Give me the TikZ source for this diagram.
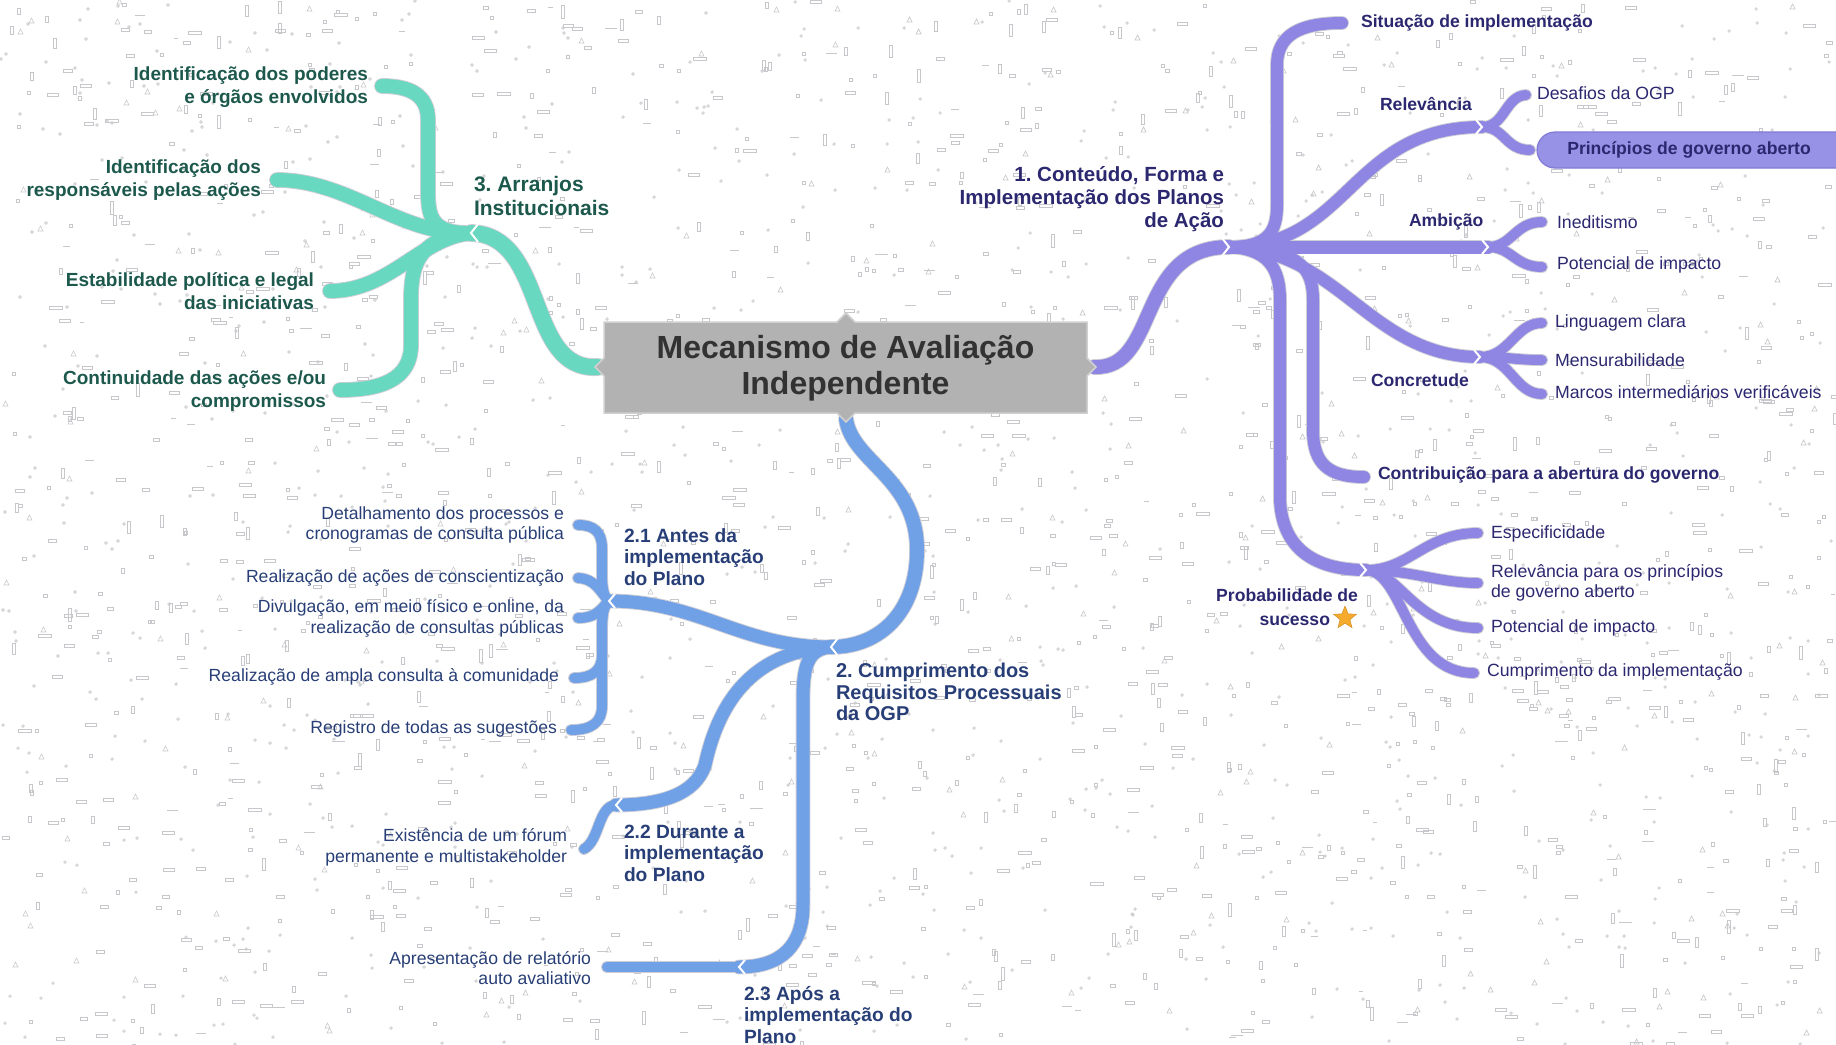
\documentclass[tikz,border=0pt]{standalone}
\usepackage{fontspec}
\setmainfont{Liberation Sans}
\usetikzlibrary{shapes.geometric}
\frenchspacing

\definecolor{tealR}{RGB}{104,216,192}
\definecolor{tealT}{RGB}{28,88,76}
\definecolor{purR}{RGB}{142,134,226}
\definecolor{purT}{RGB}{44,40,112}
\definecolor{bluR}{RGB}{112,160,230}
\definecolor{bluT}{RGB}{40,62,118}
\definecolor{edgeC}{RGB}{206,206,214}
\definecolor{boxF}{RGB}{178,178,178}
\definecolor{boxE}{RGB}{208,208,208}
\definecolor{boxT}{RGB}{50,50,50}
\definecolor{pillF}{RGB}{152,146,230}
\definecolor{pillE}{RGB}{128,122,212}
\definecolor{starC}{RGB}{246,170,46}
\definecolor{speck}{RGB}{200,200,204}

\pgfdeclarelayer{texture}
\pgfdeclarelayer{ribbons}
\pgfdeclarelayer{plate}
\pgfsetlayers{texture,ribbons,plate,main}

% ribbon sets: #1 = colour, #2 = extra width (for the pale outline pass)
\newcommand\tealribbons[2]{%
  \draw[draw=#1,line width=16pt+#2,line cap=round] (tRoot) .. controls (525,372) and (548,235) .. (tHub);
  \draw[draw=#1,line width=14pt+#2,line cap=round] (tHub) .. controls (430,234) and (428,215) .. (428,190) -- (428,120) .. controls (428,95) and (410,86) .. (tL1);
  \draw[draw=#1,line width=14pt+#2,line cap=round] (tHub) .. controls (400,236) and (350,180) .. (tL2);
  \draw[draw=#1,line width=14pt+#2,line cap=round] (tHub) .. controls (420,238) and (390,291) .. (tL3);
  \draw[draw=#1,line width=14pt+#2,line cap=round] (tHub) .. controls (420,238) and (411,262) .. (411,300) -- (411,345) .. controls (411,380) and (380,390) .. (tL4);
}
\newcommand\purribbons[2]{%
  \draw[draw=#1,line width=14pt+#2,line cap=round] (pRoot) .. controls (1160,370) and (1135,247) .. (pHub);
  \draw[draw=#1,line width=12pt+#2,line cap=round] (pHub) .. controls (1268,247) and (1277,232) .. (1277,205) -- (1277,65) .. controls (1277,35) and (1300,23) .. (pSit);
  \draw[draw=#1,line width=12pt+#2,line cap=round] (pHub) .. controls (1350,247) and (1350,127) .. (pRel);
  \draw[draw=#1,line width=10pt+#2,line cap=round] (pRel) .. controls (1505,127) and (1505,96) .. (pDes);
  \draw[draw=#1,line width=10pt+#2,line cap=round] (pRel) .. controls (1505,127) and (1505,150) .. (pPri);
  \draw[draw=#1,line width=13pt+#2,line cap=round] (pHub) -- (pAmb);
  \draw[draw=#1,line width=10pt+#2,line cap=round] (pAmb) .. controls (1512,247) and (1515,222) .. (pIne);
  \draw[draw=#1,line width=10pt+#2,line cap=round] (pAmb) .. controls (1512,247) and (1515,267) .. (pPot);
  \draw[draw=#1,line width=12pt+#2,line cap=round] (pHub) .. controls (1340,250) and (1370,357) .. (pCon);
  \draw[draw=#1,line width=10pt+#2,line cap=round] (pCon) .. controls (1510,357) and (1515,323) .. (pLin);
  \draw[draw=#1,line width=10pt+#2,line cap=round] (pCon) .. controls (1510,357) and (1515,360) .. (pMen);
  \draw[draw=#1,line width=10pt+#2,line cap=round] (pCon) .. controls (1510,357) and (1515,394) .. (pMar);
  \draw[draw=#1,line width=12pt+#2,line cap=round] (pHub) .. controls (1300,249) and (1313,268) .. (1313,300) -- (1313,430) .. controls (1313,465) and (1330,477) .. (pCtb);
  \draw[draw=#1,line width=12pt+#2,line cap=round] (pHub) .. controls (1268,249) and (1280,268) .. (1280,300) -- (1280,500) .. controls (1282,545) and (1310,570) .. (pPro);
  \draw[draw=#1,line width=10pt+#2,line cap=round] (pPro) .. controls (1410,570) and (1425,533) .. (pEsp);
  \draw[draw=#1,line width=10pt+#2,line cap=round] (pPro) .. controls (1410,570) and (1440,583) .. (pRpg);
  \draw[draw=#1,line width=10pt+#2,line cap=round] (pPro) .. controls (1400,572) and (1415,628) .. (pPim);
  \draw[draw=#1,line width=10pt+#2,line cap=round] (pPro) .. controls (1405,572) and (1405,673) .. (pCum);
}
\newcommand\bluribbons[2]{%
  \draw[draw=#1,line width=14pt+#2,line cap=round] (bRoot) .. controls (852,462) and (917,478) .. (917,550) .. controls (917,612) and (880,647) .. (bHub);
  \draw[draw=#1,line width=13pt+#2,line cap=round] (bHub) .. controls (740,647) and (700,601) .. (bA);
  \draw[draw=#1,line width=10pt+#2,line cap=round] (bA) .. controls (603,596) and (602,588) .. (602,570) -- (602,548) .. controls (602,532) and (594,525) .. (bA1);
  \draw[draw=#1,line width=10pt+#2,line cap=round] (bA) .. controls (600,592) and (596,579) .. (bA2);
  \draw[draw=#1,line width=10pt+#2,line cap=round] (bA) .. controls (600,610) and (596,618) .. (bA3);
  \draw[draw=#1,line width=10pt+#2,line cap=round] (bA) .. controls (603,606) and (602,615) .. (602,632) -- (602,655) .. controls (602,671) and (592,678) .. (bA4);
  \draw[draw=#1,line width=10pt+#2,line cap=round] (bA) .. controls (603,606) and (602,615) .. (602,632) -- (602,706) .. controls (602,722) and (592,730) .. (bA5);
  \draw[draw=#1,line width=13pt+#2,line cap=round] (bHub) .. controls (740,652) and (715,720) .. (705,765) .. controls (695,795) and (660,805) .. (bB);
  \draw[draw=#1,line width=10pt+#2,line cap=round] (bB) .. controls (598,806) and (600,840) .. (bB1);
  \draw[draw=#1,line width=13pt+#2,line cap=round] (bHub) .. controls (808,649) and (803,665) .. (803,700) -- (803,905) .. controls (803,945) and (782,967) .. (bC);
  \draw[draw=#1,line width=10pt+#2,line cap=round] (bC) -- (bC1);
}

\begin{document}
\begin{tikzpicture}[x=1pt,y=-1pt,
  every node/.style={inner sep=0pt,outer sep=0pt},
  tealhead/.style={font=\bfseries\fontsize{21}{24}\selectfont,text=tealT,align=left},
  tealleaf/.style={font=\bfseries\fontsize{19}{22.5}\selectfont,text=tealT,align=right},
  purhead/.style={font=\bfseries\fontsize{20.5}{23}\selectfont,text=purT,align=right},
  purbold/.style={font=\bfseries\fontsize{17.6}{24}\selectfont,text=purT,align=right},
  purleaf/.style={font=\fontsize{17.7}{20.5}\selectfont,text=purT,align=left},
  bluhead/.style={font=\bfseries\fontsize{20}{21.5}\selectfont,text=bluT,align=left},
  blusub/.style={font=\bfseries\fontsize{19.2}{21.5}\selectfont,text=bluT,align=left},
  bluleaf/.style={font=\fontsize{17.6}{20.8}\selectfont,text=bluT,align=right},
  centretext/.style={font=\bfseries\fontsize{32}{36.5}\selectfont,text=boxT,align=center},
  notch/.style={draw=white,line width=2pt},
  speckle/.style={draw=speck,line width=0.65pt},
]
\useasboundingbox (0,0) rectangle (1836,1044);
\clip (0,0) rectangle (1836,1044);

% ---------- named points of the ribbons ----------
\coordinate (tRoot) at (598,367);  \coordinate (tHub) at (471,233);
\coordinate (tL1) at (382,86);     \coordinate (tL2) at (277,180);
\coordinate (tL3) at (330,291);    \coordinate (tL4) at (340,390);

\coordinate (pRoot) at (1094,367); \coordinate (pHub) at (1229,247);
\coordinate (pSit) at (1342,23);
\coordinate (pRel) at (1482,127);  \coordinate (pDes) at (1526,95);  \coordinate (pPri) at (1530,150);
\coordinate (pAmb) at (1488,247);  \coordinate (pIne) at (1542,222); \coordinate (pPot) at (1542,267);
\coordinate (pCon) at (1480,357);  \coordinate (pLin) at (1542,323); \coordinate (pMen) at (1542,360);
\coordinate (pMar) at (1542,394);
\coordinate (pCtb) at (1364,477);
\coordinate (pPro) at (1366,570);  \coordinate (pEsp) at (1478,533); \coordinate (pRpg) at (1478,583);
\coordinate (pPim) at (1478,628);  \coordinate (pCum) at (1474,673);

\coordinate (bRoot) at (846,419);  \coordinate (bHub) at (831,647);
\coordinate (bA) at (609,601);
\coordinate (bA1) at (578,525); \coordinate (bA2) at (578,578); \coordinate (bA3) at (578,618);
\coordinate (bA4) at (574,678); \coordinate (bA5) at (571,730);
\coordinate (bB) at (616,805);  \coordinate (bB1) at (584,849);
\coordinate (bC) at (739,967);  \coordinate (bC1) at (607,967);

% ---------- paper texture ----------
\begin{pgfonlayer}{texture}
\pgfmathsetseed{2024}
\foreach \i in {1,...,2600}{
  \pgfmathtruncatemacro\px{random(0,1836)}
  \pgfmathtruncatemacro\py{random(0,1044)}
  \pgfmathtruncatemacro\kind{random(1,20)}
  \pgfmathtruncatemacro\len{random(4,13)}
  \ifnum\kind<8
    \draw[speckle] (\px,\py) circle[radius=1.3];
  \else\ifnum\kind<13
    \draw[speckle] (\px,\py) rectangle ++(\len,3);
  \else\ifnum\kind<16
    \draw[speckle] (\px,\py) rectangle ++(3,\len);
  \else\ifnum\kind<18
    \draw[speckle] (\px,\py) rectangle ++(3.5,3.5);
  \else\ifnum\kind<20
    \draw[speckle] (\px,\py) -- ++(5,0) -- ++(-2.5,-5) -- cycle;
  \else
    \draw[speckle] (\px,\py) -- ++(\len,0);
  \fi\fi\fi\fi\fi
}
\end{pgfonlayer}

% ---------- ribbons ----------
\begin{pgfonlayer}{ribbons}
  \tealribbons{edgeC}{1.8pt}
  \purribbons{edgeC}{1.8pt}
  \bluribbons{edgeC}{1.8pt}
  \tealribbons{tealR}{0pt}
  \purribbons{purR}{0pt}
  \bluribbons{bluR}{0pt}
  % joints
  \draw[notch] (tHub) ++(7,-9) -- (tHub) -- ++(7,9);
  \draw[notch] (pHub) ++(-7,-9) -- (pHub) -- ++(-7,9);
  \draw[notch] (pRel) ++(-6,-7) -- (pRel) -- ++(-6,7);
  \draw[notch] (pAmb) ++(-6,-7) -- (pAmb) -- ++(-6,7);
  \draw[notch] (pCon) ++(-6,-7) -- (pCon) -- ++(-6,7);
  \draw[notch] (pPro) ++(-6,-7) -- (pPro) -- ++(-6,7);
  \draw[notch] (bHub) ++(7,-9) -- (bHub) -- ++(7,9);
  \draw[notch] (bA) ++(6,-7) -- (bA) -- ++(6,7);
  \draw[notch] (bB) ++(6,-7) -- (bB) -- ++(6,7);
  \draw[notch] (bC) ++(6,-7) -- (bC) -- ++(6,7);
\end{pgfonlayer}

% ---------- central topic ----------
\node[centretext] (mav) at (845.5,368) {Mecanismo de Avaliação\\Independente};
\begin{pgfonlayer}{plate}
  \draw[fill=boxF,draw=boxE,line width=1.5pt]
    (604,322) -- (837,322) -- (846,313) -- (855,322) -- (1087,322) -- (1087,358) -- (1096,367)
    -- (1087,376) -- (1087,413) -- (855,413) -- (846,422) -- (837,413) -- (604,413) -- (604,376)
    -- (595,367) -- (604,358) -- cycle;
  \draw[fill=pillF,draw=pillE,line width=1.2pt,rounded corners=18pt] (1537,132) rectangle (1880,168);
\end{pgfonlayer}

% ---------- 3. Arranjos Institucionais ----------
\node[tealhead,anchor=west] (arr) at (474,196) {3. Arranjos\\Institucionais};
\node[tealleaf,anchor=east] (t1) at (368,87) {Identificação dos poderes\\e órgãos envolvidos};
\node[tealleaf,anchor=east] (t2) at (261,180) {Identificação dos\\responsáveis pelas ações};
\node[tealleaf,anchor=east] (t3) at (314,291) {Estabilidade política e legal\\das iniciativas};
\node[tealleaf,anchor=east] (t4) at (326,391) {Continuidade das ações e/ou\\compromissos};

% ---------- 1. Conteúdo, Forma e Implementação ----------
\node[purhead,anchor=east] (cfi) at (1224,199) {1. Conteúdo, Forma e\\Implementação dos Planos\\de Ação};
\node[purbold,anchor=west] (sit) at (1361,23) {Situação de implementação};
\node[purbold,anchor=west] (rel) at (1380,104) {Relevância};
\node[purleaf,anchor=west] (des) at (1537,93) {Desafios da OGP};
\node[purbold] (pri) at (1689,150) {Princípios de governo aberto};
\node[purbold,anchor=west] (amb) at (1409,222) {Ambição};
\node[purleaf,anchor=west] (ine) at (1557,222) {Ineditismo};
\node[purleaf,anchor=west] (pot) at (1557,265) {Potencial de impacto};
\node[purbold,anchor=west] (con) at (1371,380) {Concretude};
\node[purleaf,anchor=west] (lin) at (1555,323) {Linguagem clara};
\node[purleaf,anchor=west] (men) at (1555,360) {Mensurabilidade};
\node[purleaf,anchor=west] (mar) at (1555,392) {Marcos intermediários verificáveis};
\node[purbold,anchor=west] (ctb) at (1378,475) {Contribuição para a abertura do governo};
\node[purbold,anchor=east] (pro) at (1358,607) {Probabilidade de\\sucesso\hspace*{28pt}};
\node[star,star points=5,star point ratio=2.3,minimum size=24pt,fill=starC,draw=starC!85!black,line width=0.5pt] (str) at (1345,618) {};
\node[purleaf,anchor=west] (esp) at (1491,534) {Especificidade};
\node[purleaf,anchor=west] (rpg) at (1491,583) {Relevância para os princípios\\de governo aberto};
\node[purleaf,anchor=west] (pim) at (1491,628) {Potencial de impacto};
\node[purleaf,anchor=west] (cum) at (1487,672) {Cumprimento da implementação};

% ---------- 2. Cumprimento dos Requisitos Processuais ----------
\node[bluhead,anchor=west] (crp) at (836,692) {2. Cumprimento dos\\Requisitos Processuais\\da OGP};
\node[blusub,anchor=west] (antes) at (624,557) {2.1 Antes da\\implementação\\do Plano};
\node[blusub,anchor=west] (durante) at (624,853) {2.2 Durante a\\implementação\\do Plano};
\node[blusub,anchor=west] (apos) at (744,1015) {2.3 Após a\\implementação do\\Plano};
\node[bluleaf,anchor=east] (b1) at (564,525) {Detalhamento dos processos e\\cronogramas de consulta pública};
\node[bluleaf,anchor=east] (b2) at (564,578) {Realização de ações de conscientização};
\node[bluleaf,anchor=east] (b3) at (564,618) {Divulgação, em meio físico e online, da\\realização de consultas públicas};
\node[bluleaf,anchor=east] (b4) at (559,677) {Realização de ampla consulta à comunidade};
\node[bluleaf,anchor=east] (b5) at (557,729) {Registro de todas as sugestões};
\node[bluleaf,anchor=east] (b6) at (567,847) {Existência de um fórum\\permanente e multistakeholder};
\node[bluleaf,anchor=east] (b7) at (591,968) {Apresentação de relatório\\auto avaliativo};
\end{tikzpicture}
\end{document}
